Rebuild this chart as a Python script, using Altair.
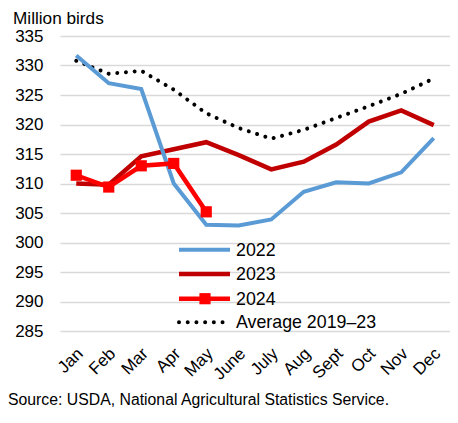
import altair as alt
import pandas as pd

months = ["Jan", "Feb", "Mar", "Apr", "May", "June", "July", "Aug", "Sept", "Oct", "Nov", "Dec"]
v2022 = [331.7, 327.0, 326.0, 310.0, 303.0, 302.9, 303.9, 308.6, 310.2, 310.0, 311.9, 317.7]
v2023 = [310.0, 309.8, 314.6, 315.8, 317.0, 314.8, 312.4, 313.7, 316.6, 320.5, 322.4, 319.9]
v2024 = [311.4, 309.4, 313.0, 313.4, 305.2]
vavg = [330.8, 328.6, 329.1, 325.9, 321.9, 319.4, 317.6, 319.1, 321.1, 323.1, 325.2, 327.8]
series = ["2022", "2023", "2024", "Average 2019\u201323"]
source_text = "Source: USDA, National Agricultural Statistics Service."
y_title = "Million birds"

FONT = "Liberation Sans"

rows = []
for s, vals in zip(series, [v2022, v2023, v2024, vavg]):
    for m, v in zip(months, vals):
        rows.append({"month": m, "value": v, "series": s})
df = pd.DataFrame(rows)

x_enc = alt.X("month:O", sort=months, scale=alt.Scale(domain=months, padding=0.5),
              axis=alt.Axis(title=None, labelAngle=-45, labelFontSize=17, labelFont=FONT,
                            labelColor="#000000", domain=False, ticks=False, grid=False,
                            labelPadding=14, labelOffset=-2))
y_enc = alt.Y("value:Q", scale=alt.Scale(domain=[285, 335], nice=False, zero=False),
              axis=alt.Axis(title=None, values=list(range(285, 340, 5)), labelFontSize=17,
                            labelFont=FONT, labelColor="#000000", domain=False, ticks=False,
                            labelPadding=17, gridColor="#D9D9D9", gridWidth=1.3))

base = alt.Chart(df)

styles = {
    "2022": dict(color="#5B9BD5", strokeWidth=4),
    "2023": dict(color="#C00000", strokeWidth=4.5),
    "2024": dict(color="#FF0000", strokeWidth=4.5),
    "Average 2019\u201323": dict(color="#000000", strokeWidth=4, strokeDash=[0.01, 8.7], strokeCap="round"),
}

order = ["Average 2019\u201323", "2023", "2022", "2024"]
layers = []
for s in order:
    st = styles[s]
    layers.append(base.transform_filter(alt.datum.series == s)
                  .mark_line(**st).encode(x=x_enc, y=y_enc))
layers.append(base.transform_filter(alt.datum.series == "2024")
              .mark_point(shape="square", filled=True, size=125, color="#FF0000", opacity=1)
              .encode(x=x_enc, y=y_enc))

# manual legend
leg_y = [213.7, 238, 262.7, 286.3]
for s, yy in zip(series, leg_y):
    st = styles[s]
    ld = pd.DataFrame({"label": [s]})
    layers.append(alt.Chart(ld).mark_rule(**st).encode(
        x=alt.value(119), x2=alt.value(170), y=alt.value(yy)))
    layers.append(alt.Chart(ld).mark_text(align="left", baseline="middle", fontSize=17.8,
                                          font=FONT, color="#000000").encode(
        x=alt.value(176), y=alt.value(yy + 1), text="label:N"))
    if s == "2024":
        layers.append(alt.Chart(ld).mark_point(shape="square", filled=True, size=125,
                                               color="#FF0000", opacity=1).encode(
            x=alt.value(145), y=alt.value(yy)))

layers.append(alt.Chart(pd.DataFrame({"t": [y_title]})).mark_text(
    align="left", baseline="alphabetic", fontSize=17.2, font=FONT, color="#000000").encode(
    x=alt.value(-47), y=alt.value(-12.5), text="t:N"))
layers.append(alt.Chart(pd.DataFrame({"t": [source_text]})).mark_text(
    align="left", baseline="middle", fontSize=15.8, font=FONT, color="#000000").encode(
    x=alt.value(-52), y=alt.value(364), text="t:N"))

chart = alt.layer(*layers).properties(
    width=390, height=295,
    background="#ffffff",
    autosize=alt.AutoSizeParams(type="none"),
    padding={"left": 52, "top": 28, "right": 0, "bottom": 80},
).configure_view(strokeWidth=0, stroke="transparent")

chart.save("out.html", embed_options={"renderer": "svg", "actions": False})
